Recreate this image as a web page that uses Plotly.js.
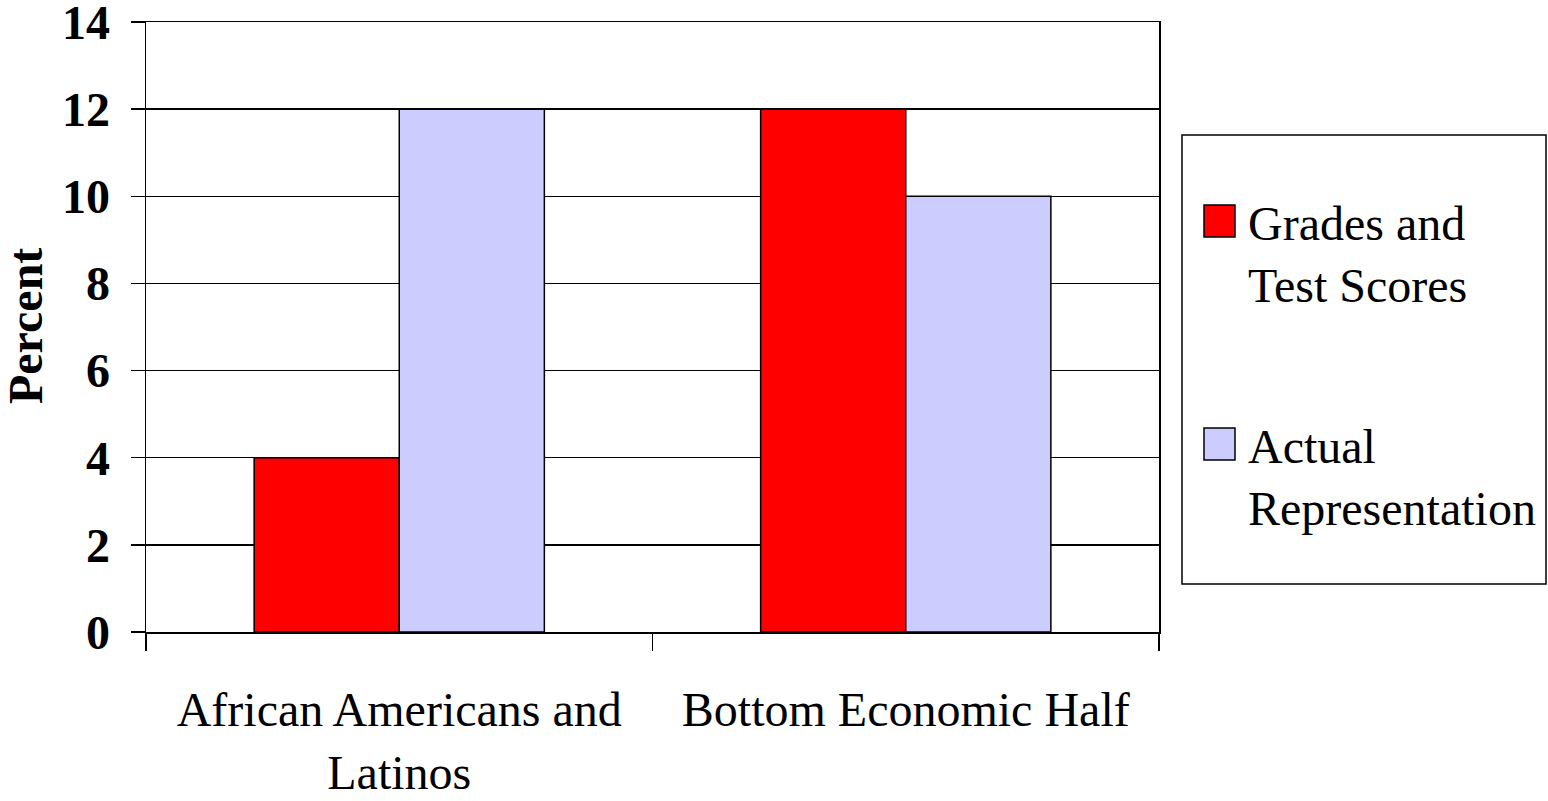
<!DOCTYPE html>
<html>
<head>
<meta charset="utf-8">
<script src="https://cdn.plot.ly/plotly-3.0.1.min.js"></script>
<style>
  html, body { margin: 0; padding: 0; background: #ffffff; }
  #chart { width: 1548px; height: 801px; }
</style>
</head>
<body>
<div id="chart"></div>
<script>
// Categories and series
const categories = ['African Americans and<br>Latinos', 'Bottom Economic Half'];
const seriesNames = ['Grades and<br>Test Scores', 'Actual<br>Representation'];
const gradesAndTestScores = [4, 12];
const actualRepresentation = [12, 10];
const seriesColors = ['#FF0000', '#CCCCFF'];
const yTickValues = [0, 2, 4, 6, 8, 10, 12, 14];
const yTitle = 'Percent';

const FONT = '"Liberation Serif", "Times New Roman", Times, serif';

// Plot area in pixels
const W = 1548, H = 801;
const L = 146, R = 1159, T = 22, B = 632;
const px2x = p => (p - L) / (R - L);
const px2y = p => (B - p) / (B - T);

const outline = { color: '#000000', width: 1.5 };

const traces = [gradesAndTestScores, actualRepresentation].map((vals, i) => ({
  type: 'bar',
  x: categories,
  y: vals,
  name: seriesNames[i],
  marker: { color: seriesColors[i], line: outline },
  showlegend: false,
  hoverinfo: 'x+y'
}));

// Legend box drawn as a bordered panel with colour keys
const legendItems = [
  { top: 205, text: seriesNames[0], color: seriesColors[0] },
  { top: 428, text: seriesNames[1], color: seriesColors[1] }
];
const shapes = [{
  type: 'rect', xref: 'paper', yref: 'paper',
  x0: px2x(1182), x1: px2x(1546), y0: px2y(584), y1: px2y(135),
  line: { color: '#000000', width: 1.5 }, fillcolor: 'rgba(0,0,0,0)'
}];
const annotations = [];
legendItems.forEach(it => {
  shapes.push({
    type: 'rect', xref: 'paper', yref: 'paper',
    x0: px2x(1204), x1: px2x(1235), y0: px2y(it.top + 32), y1: px2y(it.top),
    line: { color: '#000000', width: 1.5 }, fillcolor: it.color
  });
  annotations.push({
    xref: 'paper', yref: 'paper',
    x: px2x(1246), y: px2y(it.top - 10),
    xanchor: 'left', yanchor: 'top', align: 'left',
    showarrow: false, text: it.text,
    font: { family: FONT, size: 48, color: '#000000' }
  });
});

// Vertical axis title, placed close to the left edge
annotations.push({
  xref: 'paper', yref: 'paper',
  x: px2x(25), y: px2y(326),
  xanchor: 'center', yanchor: 'middle',
  textangle: -90, showarrow: false,
  text: '<b>' + yTitle + '</b>',
  font: { family: FONT, size: 48, color: '#000000' }
});

const layout = {
  width: W, height: H,
  margin: { l: L, r: W - R, t: T, b: H - B, pad: 0 },
  paper_bgcolor: '#ffffff',
  plot_bgcolor: '#ffffff',
  showlegend: false,
  bargap: 0.427,
  bargroupgap: 0,
  font: { family: FONT, color: '#000000' },
  xaxis: {
    type: 'category',
    showline: true, linecolor: '#000000', linewidth: 1.5, mirror: true,
    showgrid: false, zeroline: false,
    ticks: 'outside', tickson: 'boundaries', ticklen: 17, tickwidth: 1.5, tickcolor: '#000000',
    tickfont: { family: FONT, size: 48, color: '#000000' },
    ticklabelstandoff: 35,
    automargin: false
  },
  yaxis: {
    range: [0, 14],
    tickvals: yTickValues,
    showline: true, linecolor: '#000000', linewidth: 1.5, mirror: true,
    showgrid: true, gridcolor: '#000000', gridwidth: 1.5,
    zeroline: false,
    ticks: 'outside', ticklen: 14, tickwidth: 1.5, tickcolor: '#000000',
    tickfont: { family: FONT, size: 48, color: '#000000', weight: 'bold' },
    ticklabelstandoff: 11,
    ticklabeloverflow: 'allow',
    automargin: false
  },
  shapes: shapes,
  annotations: annotations
};

Plotly.newPlot('chart', traces, layout, { displayModeBar: false, staticPlot: true });
</script>
</body>
</html>
